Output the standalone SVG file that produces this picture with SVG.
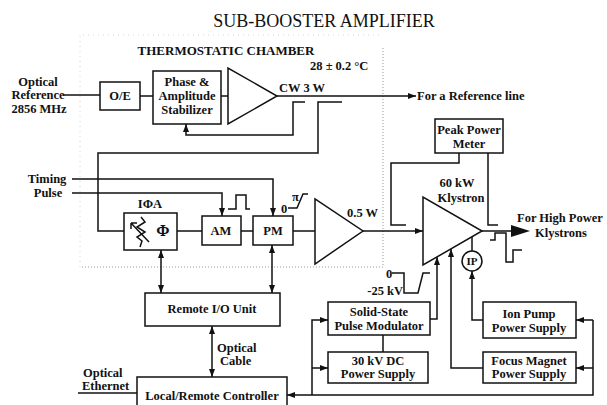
<svg xmlns="http://www.w3.org/2000/svg" width="607" height="405" viewBox="0 0 607 405">
<defs>
<marker id="a" viewBox="0 0 8 6" refX="8" refY="3" markerWidth="8" markerHeight="6" markerUnits="userSpaceOnUse" orient="auto-start-reverse"><path d="M0,0 L8,3 L0,6 Z" fill="#111"/></marker>
</defs>
<style>
.t{font-family:"Liberation Serif","Times New Roman",serif;font-size:12.5px;font-weight:bold;fill:#111}
.c{text-anchor:middle}
.b{fill:#fff;stroke:#111;stroke-width:1.5}
.l{fill:none;stroke:#111;stroke-width:1.5}
.d{fill:none;stroke:#999;stroke-width:1;stroke-dasharray:1 2}
.f{fill:none;stroke:#d4d4d4;stroke-width:1;stroke-dasharray:1 4}
</style>
<rect width="607" height="405" fill="#fff"/>
<text class="t c" x="324" y="27" style="font-size:18px;font-weight:normal">SUB-BOOSTER AMPLIFIER</text>
<g id="chamber">
<path class="f" d="M80,267 V35 H383"/>
<path class="d" d="M383,48 V267 H80"/>
<text class="t c" x="226" y="55" style="font-size:13px">THERMOSTATIC CHAMBER</text>
<text class="t" x="310" y="70">28 ± 0.2 °C</text>
</g>
<g id="connectors">
<path class="l" d="M63,95 H100"/>
<path class="l" d="M140,96 H153"/>
<path class="l" d="M221,96 H228"/>
<path class="l" d="M277,96 H416" marker-end="url(#a)"/>
<path class="l" d="M305,102 H293 V135 H186 V124" marker-end="url(#a)"/>
<path class="l" d="M342,102 H318 V153 H98 V231 H124"/>
<path class="l" d="M72,179 H273 V216" marker-end="url(#a)"/>
<path class="l" d="M72,193 H222 V216" marker-end="url(#a)"/>
<path class="l" d="M177,231 H202 M241,231 H253 M293,231 H315"/>
<path class="l" d="M363,231 H423" marker-end="url(#a)"/>
<path class="l" d="M459,153 V163 H391 V225 H406"/>
<path class="l" d="M488,153 V225 H498"/>
<path class="l" d="M482,231 H514"/>
<polygon points="511,225 530,231 511,237" fill="#111"/>
<path class="l" d="M472,237 V251"/>
<path class="l" d="M483,320 H472 V271" marker-end="url(#a)"/>
<path class="l" d="M430,319 H437 V257" marker-end="url(#a)"/>
<path class="l" d="M483,368 H451 V249" marker-end="url(#a)"/>
<path class="l" d="M383,335 V352"/>
<path class="l" d="M161,250 V293" marker-start="url(#a)" marker-end="url(#a)"/>
<path class="l" d="M272,245 V293" marker-start="url(#a)" marker-end="url(#a)"/>
<path class="l" d="M212,326 V377" marker-start="url(#a)" marker-end="url(#a)"/>
<path class="l" d="M593,320 V395 H287" marker-end="url(#a)"/>
<path class="l" d="M593,320 H576" marker-end="url(#a)"/>
<path class="l" d="M593,368 H576" marker-end="url(#a)"/>
<path class="l" d="M312,395 V320 H328" marker-end="url(#a)"/>
<path class="l" d="M312,368 H328" marker-end="url(#a)"/>
<path class="l" d="M78,393 H137"/>
<path class="l" stroke-width="1.2" d="M228,209 H236 V195 H246 V209 H250"/>
<path class="l" stroke-width="1.2" d="M288,208 H297 L303,194 H308"/>
<path class="l" stroke-width="1.2" d="M392,273 H404 V293 H418 L423,273 H430"/>
<path class="l" stroke-width="1.2" d="M490,240 H495 V233 H506 V262 H513 V250 H522"/>
</g>
<g id="optref"><text class="t c" x="38" y="86">Optical</text><text class="t c" x="38" y="99">Reference</text><text class="t c" x="39" y="113">2856 MHz</text></g>
<g id="oe"><rect class="b" x="100" y="82" width="40" height="28"/><text class="t c" x="120" y="100">O/E</text></g>
<g id="stab"><rect class="b" x="153" y="71" width="68" height="53"/><text class="t c" x="187" y="86">Phase &amp;</text><text class="t c" x="187" y="100">Amplitude</text><text class="t c" x="187" y="114">Stabilizer</text></g>
<g id="amp1"><polygon class="b" points="228,68 228,124 277,96"/><text class="t" x="279" y="92">CW  3 W</text></g>
<text class="t" x="417" y="100">For a Reference line</text>
<g id="timing"><text class="t c" x="47" y="183">Timing</text><text class="t c" x="48" y="197">Pulse</text></g>
<g id="ipa"><rect class="b" x="124" y="213" width="53" height="37"/><text class="t c" x="150" y="208">IΦA</text>
<path class="l" stroke-width="1.3" d="M141,217 L145,222 L137,227 L145,232 L137,237 L142,241 L140,247"/>
<path class="l" stroke-width="1.3" d="M131,223 L149,242 M131,223 L131,229 M131,223 L137,223"/>
<text class="t c" x="163" y="236" style="font-size:16px">Φ</text></g>
<g id="am"><rect class="b" x="202" y="216" width="39" height="29"/><text class="t c" x="221" y="235">AM</text></g>
<g id="pm"><rect class="b" x="253" y="216" width="40" height="29"/><text class="t c" x="273" y="235">PM</text></g>
<text class="t" x="281" y="213">0</text><text class="t" x="292" y="201">π</text>
<g id="amp2"><polygon class="b" points="315,199 315,264 363,231"/><text class="t" x="347" y="217">0.5 W</text></g>
<g id="ppm"><rect class="b" x="435" y="119" width="68" height="34"/><text class="t c" x="469" y="134">Peak Power</text><text class="t c" x="469" y="148">Meter</text></g>
<g id="klystron"><polygon class="b" points="423,197 423,265 482,231"/><text class="t c" x="457" y="187">60 kW</text><text class="t c" x="461" y="202">Klystron</text></g>
<g id="ip"><circle class="b" cx="472" cy="261" r="10"/><text class="t c" x="472" y="265" style="font-size:11px">IP</text></g>
<g id="out"><text class="t" x="517" y="222">For High Power</text><text class="t" x="535" y="237">Klystrons</text></g>
<g id="rio"><rect class="b" x="145" y="293" width="135" height="33"/><text class="t c" x="212" y="313">Remote I/O Unit</text></g>
<g id="cable"><text class="t" x="217" y="352">Optical</text><text class="t" x="220" y="365">Cable</text></g>
<g id="eth"><text class="t" x="83" y="377">Optical</text><text class="t" x="82" y="390">Ethernet</text></g>
<g id="ctrl"><rect class="b" x="137" y="377" width="150" height="35"/><text class="t c" x="212" y="400">Local/Remote Controller</text></g>
<g id="kv"><text class="t" x="386" y="278">0</text><text class="t" x="403" y="295" text-anchor="end">-25 kV</text></g>
<g id="mod"><rect class="b" x="328" y="302" width="102" height="33"/><text class="t c" x="379" y="316">Solid-State</text><text class="t c" x="379" y="330">Pulse Modulator</text></g>
<g id="dc"><rect class="b" x="328" y="352" width="100" height="31"/><text class="t c" x="378" y="365">30 kV DC</text><text class="t c" x="378" y="378">Power Supply</text></g>
<g id="ion"><rect class="b" x="483" y="302" width="93" height="36"/><text class="t c" x="529" y="318">Ion Pump</text><text class="t c" x="529" y="332">Power Supply</text></g>
<g id="focus"><rect class="b" x="483" y="352" width="93" height="31"/><text class="t c" x="529" y="365">Focus Magnet</text><text class="t c" x="529" y="378">Power Supply</text></g>
</svg>
